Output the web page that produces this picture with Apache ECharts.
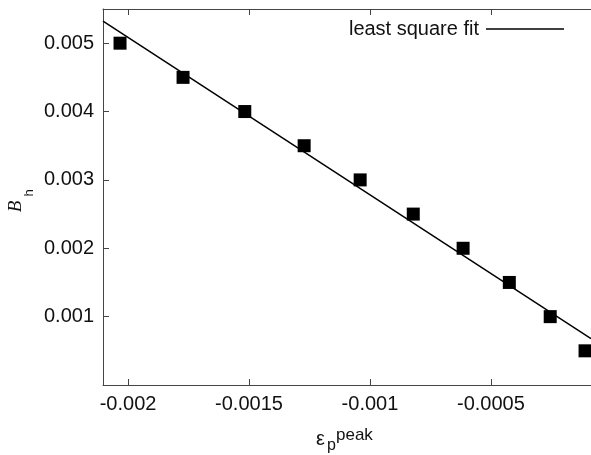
<!DOCTYPE html>
<html>
<head>
<meta charset="utf-8">
<script src="https://cdn.jsdelivr.net/npm/echarts@6/dist/echarts.min.js"></script>
<style>
  html, body { margin: 0; padding: 0; background: #fff; }
  #chart { width: 591px; height: 455px; }
</style>
</head>
<body>
<div id="chart"></div>
<script>
// Peak plastic strain vs. hardening parameter B_h
const strainPeak = [-0.002033, -0.0017725, -0.0015174, -0.001272, -0.0010405, -0.000821, -0.000615, -0.000424, -0.000255, -0.000111];
const hardening = [0.005, 0.0045, 0.004, 0.0035, 0.003, 0.0025, 0.002, 0.0015, 0.001, 0.0005];
const xTickValues = [-0.002, -0.0015, -0.001, -0.0005];
const yTickValues = [0.001, 0.002, 0.003, 0.004, 0.005];
const xRange = [-0.0021034, -0.0000864];
const yRange = [0, 0.0055];

// Least squares straight line through the measured points
function leastSquares(xs, ys) {
  const n = xs.length;
  const mx = xs.reduce((s, v) => s + v, 0) / n;
  const my = ys.reduce((s, v) => s + v, 0) / n;
  let sxy = 0, sxx = 0;
  for (let i = 0; i < n; i++) {
    sxy += (xs[i] - mx) * (ys[i] - my);
    sxx += (xs[i] - mx) * (xs[i] - mx);
  }
  const slope = sxy / sxx;
  return { slope, intercept: my - slope * mx };
}
const fit = leastSquares(strainPeak, hardening);
const fitLine = xRange.map(x => [x, fit.intercept + fit.slope * x]);
const points = strainPeak.map((x, i) => [x, hardening[i]]);

const FONT = 'Liberation Sans';
const AXIS_COLOR = '#444';
const TEXT_COLOR = '#111';

const chart = echarts.init(document.getElementById('chart'), null, { renderer: 'canvas' });

const frameAxis = {
  type: 'value',
  min: xRange[0],
  max: xRange[1],
  axisLine: { show: true, lineStyle: { color: AXIS_COLOR, width: 1 } },
  axisTick: { show: true, inside: true, length: 6, customValues: xTickValues, lineStyle: { color: AXIS_COLOR } },
  splitLine: { show: false }
};

chart.setOption({
  animation: false,
  backgroundColor: '#fff',
  grid: { left: 103, top: 9, right: 0, bottom: 70, containLabel: false },
  legend: {
    data: [{ name: 'least square fit', icon: 'rect' }],
    right: 27,
    top: 19,
    padding: 0,
    align: 'right',
    itemWidth: 78,
    itemHeight: 1.5,
    itemStyle: { color: '#000' },
    textStyle: { fontFamily: FONT, fontSize: 20, color: TEXT_COLOR, padding: [0, 2, 0, 0] }
  },
  xAxis: [
    Object.assign({}, frameAxis, {
      position: 'bottom',
      axisLabel: {
        show: true, customValues: xTickValues, margin: 9,
        fontFamily: FONT, fontSize: 20, color: TEXT_COLOR,
        formatter: v => String(v)
      }
    }),
    Object.assign({}, frameAxis, {
      position: 'top',
      axisLabel: { show: false }
    })
  ],
  yAxis: {
    type: 'value',
    min: yRange[0],
    max: yRange[1],
    axisLine: { show: true, lineStyle: { color: AXIS_COLOR, width: 1 } },
    axisTick: { show: true, inside: true, length: 6, customValues: yTickValues, lineStyle: { color: AXIS_COLOR } },
    axisLabel: {
      show: true, customValues: yTickValues, margin: 9,
      fontFamily: FONT, fontSize: 20, color: TEXT_COLOR,
      formatter: v => String(v)
    },
    splitLine: { show: false }
  },
  series: [
    {
      name: 'least square fit',
      type: 'line',
      data: fitLine,
      symbol: 'none',
      showSymbol: false,
      lineStyle: { color: '#000', width: 1.5 },
      itemStyle: { color: '#000' },
      z: 2
    },
    {
      name: 'Bh data',
      type: 'scatter',
      data: points,
      symbol: 'rect',
      symbolSize: 13,
      itemStyle: { color: '#000', opacity: 1 },
      z: 3
    }
  ],
  graphic: [
    // y axis title: B_h, read bottom to top
    {
      type: 'text', x: 16, y: 206.5, rotation: Math.PI / 2,
      style: { text: 'B', font: 'italic 19px "Liberation Serif"', fill: TEXT_COLOR, align: 'center', verticalAlign: 'middle' }
    },
    {
      type: 'text', x: 29, y: 193, rotation: Math.PI / 2,
      style: { text: 'h', font: '13px "Liberation Sans"', fill: TEXT_COLOR, align: 'center', verticalAlign: 'middle' }
    },
    // x axis title: epsilon_p^peak
    {
      type: 'text', x: 316, y: 439,
      style: { text: 'ε', font: '20px "Liberation Sans"', fill: TEXT_COLOR, align: 'left', verticalAlign: 'middle' }
    },
    {
      type: 'text', x: 327, y: 446,
      style: { text: 'p', font: '16px "Liberation Sans"', fill: TEXT_COLOR, align: 'left', verticalAlign: 'middle' }
    },
    {
      type: 'text', x: 336, y: 435.5,
      style: { text: 'peak', font: '17px "Liberation Sans"', fill: TEXT_COLOR, align: 'left', verticalAlign: 'middle' }
    }
  ]
});
</script>
</body>
</html>
